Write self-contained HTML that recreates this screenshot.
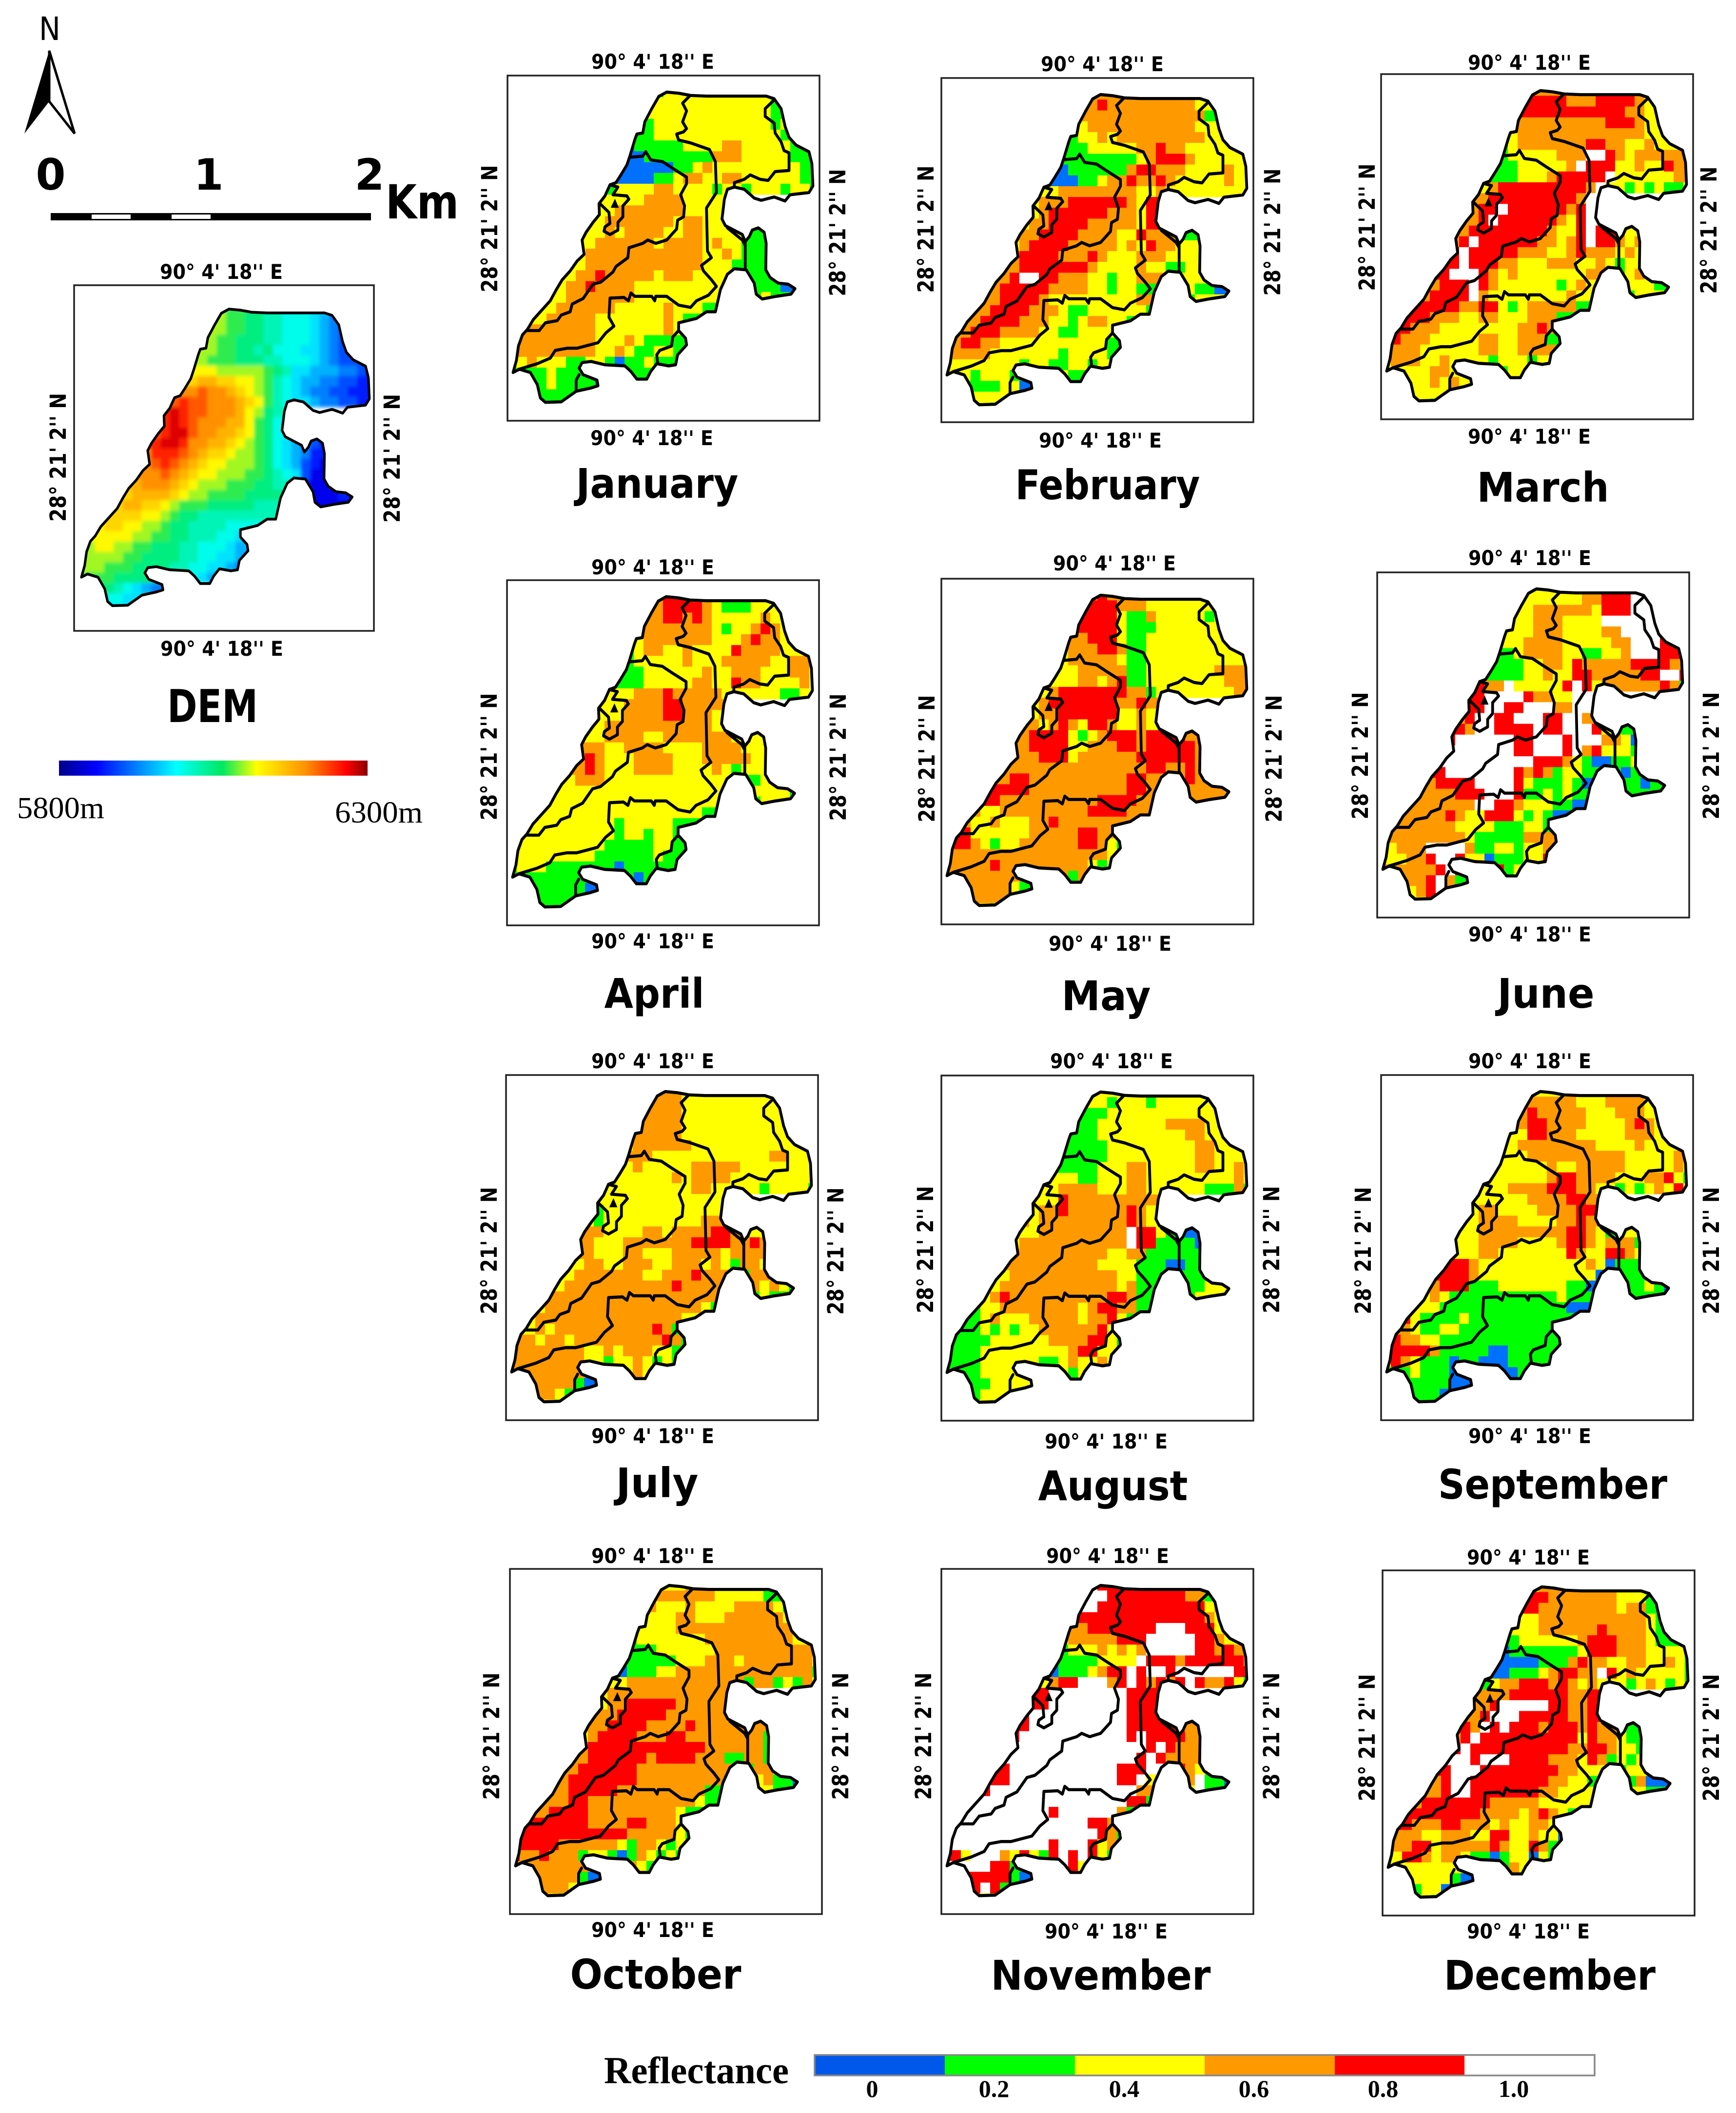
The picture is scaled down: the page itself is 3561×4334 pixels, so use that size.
<!DOCTYPE html>
<html lang="en">
<head>
<meta charset="utf-8">
<title>Monthly reflectance maps and DEM</title>
<style>
html,body{margin:0;padding:0;background:#fff}
svg{display:block}
text{fill:#000}
.lab{font-family:"DejaVu Sans","Liberation Sans",sans-serif;font-weight:700;font-size:42px;text-anchor:middle}
.side{font-family:"DejaVu Sans","Liberation Sans",sans-serif;font-weight:700;font-size:45px;text-anchor:middle}
.title{font-family:"DejaVu Sans","Liberation Sans",sans-serif;font-weight:700;font-size:84px;text-anchor:middle}
.frame{fill:none;stroke:#222;stroke-width:3.5}
.serif{font-family:"Liberation Serif",serif}
</style>
</head>
<body>
<svg xmlns="http://www.w3.org/2000/svg" width="3561" height="4334" viewBox="0 0 3561 4334">
<rect width="3561" height="4334" fill="#fff"/>
<defs>
<polygon id="basin-shape" points="28,1345 45,1290 55,1225 75,1175 100,1150 130,1105 175,1060 215,1020 245,970 275,925 315,885 350,840 385,810 375,745 395,710 430,665 462,630 460,580 490,545 515,495 545,485 570,450 600,405 615,365 640,290 650,265 680,260 690,210 725,150 760,95 800,75 860,80 920,90 1000,93 1300,93 1340,105 1375,150 1395,230 1415,280 1450,315 1515,345 1530,400 1535,500 1515,530 1420,540 1395,568 1340,550 1275,565 1240,555 1190,515 1140,505 1105,515 1090,560 1078,650 1095,680 1180,720 1195,752 1215,730 1230,700 1260,690 1290,710 1300,760 1298,880 1320,915 1360,940 1410,945 1445,965 1425,990 1350,1000 1280,1012 1250,990 1240,940 1200,880 1140,875 1105,900 1070,970 1045,1070 1000,1070 950,1100 860,1120 860,1155 895,1190 900,1220 855,1265 845,1310 810,1315 750,1305 720,1340 700,1375 650,1375 620,1340 590,1315 490,1310 420,1295 375,1300 360,1325 380,1355 450,1380 455,1405 420,1415 345,1430 270,1478 190,1480 165,1460 150,1400 115,1345 60,1330"/>
<clipPath id="basin-clip"><use href="#basin-shape"/></clipPath>
<filter id="dem-blur" x="-5%" y="-5%" width="110%" height="110%"><feGaussianBlur stdDeviation="9"/></filter>
<g id="basin-lines" fill="none" stroke="#000" stroke-width="14" stroke-linejoin="round" stroke-linecap="round">
<use href="#basin-shape"/>
<polyline points="915,93 880,125 900,160 880,210 900,240 885,255 850,265 860,292 920,305 1015,335 1045,390 1050,530 1000,600 1005,795 1025,825 975,860 985,885 1025,925 1050,955 1010,995 950,1020 920,1050 860,1040 800,1000 745,1000 740,1020 725,1000 640,1000 620,985 608,1020 585,1005 515,1008 510,1095 535,1135 495,1165 455,1210 350,1235 300,1235 240,1245 215,1280 150,1305 60,1330"/>
<polyline points="615,370 680,365 695,345 720,382 780,390 830,420 900,460 900,490 870,540 890,590 885,640 855,655 850,695 800,745 745,760 705,745 680,760 610,780 605,825 545,865 530,890 470,935 430,945 380,1010 325,1035 315,1070 270,1085 250,1110 190,1120 160,1155 100,1155"/>
<polyline points="515,495 555,505 530,540 600,545 610,560 580,590 580,640 555,665 555,700 515,720 485,705 490,685 515,670 510,620 470,585 460,580"/>
<polyline points="1335,115 1295,150 1295,185 1340,215 1345,260 1375,300 1390,340 1415,350 1415,430 1345,435 1310,475 1270,470 1220,450 1190,470 1140,485 1140,505"/>
<polyline points="1195,752 1195,875"/>
<polyline points="1105,690 1180,745 1195,770"/>
<polyline points="860,1155 830,1185 825,1225 765,1245 750,1265 755,1300"/>
<polyline points="360,1355 345,1380 345,1430"/>
<polygon points="540,560 520,598 558,598" fill="#000" stroke-width="2"/>
</g>
<linearGradient id="dem-ramp" x1="0" y1="0" x2="1" y2="0">
<stop offset="0" stop-color="#00008b"/><stop offset="0.12" stop-color="#0000ff"/><stop offset="0.38" stop-color="#00ffff"/><stop offset="0.53" stop-color="#00e860"/><stop offset="0.64" stop-color="#ffff00"/><stop offset="0.8" stop-color="#ff9000"/><stop offset="0.93" stop-color="#ff0000"/><stop offset="1" stop-color="#8b0000"/>
</linearGradient>
</defs>

<!-- North arrow and scale bar -->
<text x="80" y="82" font-family="'DejaVu Sans',sans-serif" font-size="66" textLength="44" lengthAdjust="spacingAndGlyphs">N</text>
<g>
<polygon points="101,104 50,274 101,208" fill="#000"/>
<polygon points="101,104 153,274 101,208" fill="#fff" stroke="#000" stroke-width="5" stroke-linejoin="miter"/>
</g>
<g font-family="'DejaVu Sans',sans-serif" font-weight="700" font-size="88" text-anchor="middle">
<text x="104" y="389">0</text>
<text x="428" y="389">1</text>
<text x="758" y="389">2</text>
</g>
<text x="791" y="448" font-family="'DejaVu Sans',sans-serif" font-weight="700" font-size="96" textLength="150" lengthAdjust="spacingAndGlyphs">Km</text>
<g>
<rect x="104" y="437" width="657" height="15" fill="#000"/>
<rect x="188" y="440" width="80" height="9" fill="#fff"/>
<rect x="352" y="440" width="80" height="9" fill="#fff"/>
</g>

<!-- DEM panel -->
<g>
<g transform="translate(156,601.5) scale(0.392,0.433)">
<g clip-path="url(#basin-clip)"><g id="dem-cells" filter="url(#dem-blur)"></g></g>
<use href="#basin-shape" fill="none" stroke="#000" stroke-width="13" stroke-linejoin="round"/>
</g>
<rect class="frame" x="152" y="585" width="615" height="709"/>
<text class="lab" x="454" y="572" textLength="252" lengthAdjust="spacingAndGlyphs">90° 4' 18'' E</text>
<text class="lab" x="455" y="1345" textLength="252" lengthAdjust="spacingAndGlyphs">90° 4' 18'' E</text>
<text class="side" transform="translate(135,938) rotate(-90)" textLength="264" lengthAdjust="spacingAndGlyphs">28° 21' 2'' N</text>
<text class="side" transform="translate(820,940) rotate(-90)" textLength="264" lengthAdjust="spacingAndGlyphs">28° 21' 2'' N</text>
<text class="title" x="436" y="1481" style="font-size:93px" textLength="186" lengthAdjust="spacingAndGlyphs">DEM</text>
<rect x="121" y="1560" width="633" height="31" fill="url(#dem-ramp)"/>
<text class="serif" x="35" y="1678" font-size="62" textLength="179" lengthAdjust="spacingAndGlyphs">5800m</text>
<text class="serif" x="687" y="1687" font-size="62" textLength="180" lengthAdjust="spacingAndGlyphs">6300m</text>
</g>

<!-- January -->
<g>
<g transform="translate(1041,155) scale(0.40816,0.45281)"><g class="cells" data-month="january" clip-path="url(#basin-clip)"></g><use href="#basin-lines"/></g>
<rect class="frame" x="1041" y="155" width="640" height="708"/>
<text class="lab" x="1339" y="141" textLength="252" lengthAdjust="spacingAndGlyphs">90° 4' 18'' E</text>
<text class="lab" x="1337" y="913" textLength="252" lengthAdjust="spacingAndGlyphs">90° 4' 18'' E</text>
<text class="side" transform="translate(1020,469) rotate(-90)" textLength="261" lengthAdjust="spacingAndGlyphs">28° 21' 2'' N</text>
<text class="side" transform="translate(1734,477) rotate(-90)" textLength="261" lengthAdjust="spacingAndGlyphs">28° 21' 2'' N</text>
<text class="title" x="1348" y="1021" textLength="333" lengthAdjust="spacingAndGlyphs">January</text>
</g>
<!-- February -->
<g>
<g transform="translate(1931,160) scale(0.40816,0.45281)"><g class="cells" data-month="february" clip-path="url(#basin-clip)"></g><use href="#basin-lines"/></g>
<rect class="frame" x="1931" y="160" width="640" height="706"/>
<text class="lab" x="2261" y="146" textLength="252" lengthAdjust="spacingAndGlyphs">90° 4' 18'' E</text>
<text class="lab" x="2257" y="918" textLength="252" lengthAdjust="spacingAndGlyphs">90° 4' 18'' E</text>
<text class="side" transform="translate(1915,470) rotate(-90)" textLength="261" lengthAdjust="spacingAndGlyphs">28° 21' 2'' N</text>
<text class="side" transform="translate(2626,476) rotate(-90)" textLength="261" lengthAdjust="spacingAndGlyphs">28° 21' 2'' N</text>
<text class="title" x="2272" y="1024" textLength="379" lengthAdjust="spacingAndGlyphs">February</text>
</g>
<!-- March -->
<g>
<g transform="translate(2833,152) scale(0.40816,0.45281)"><g class="cells" data-month="march" clip-path="url(#basin-clip)"></g><use href="#basin-lines"/></g>
<rect class="frame" x="2833" y="152" width="640" height="708"/>
<text class="lab" x="3137" y="143" textLength="252" lengthAdjust="spacingAndGlyphs">90° 4' 18'' E</text>
<text class="lab" x="3137" y="910" textLength="252" lengthAdjust="spacingAndGlyphs">90° 4' 18'' E</text>
<text class="side" transform="translate(2820,466) rotate(-90)" textLength="261" lengthAdjust="spacingAndGlyphs">28° 21' 2'' N</text>
<text class="side" transform="translate(3521,472) rotate(-90)" textLength="261" lengthAdjust="spacingAndGlyphs">28° 21' 2'' N</text>
<text class="title" x="3165" y="1029" textLength="271" lengthAdjust="spacingAndGlyphs">March</text>
</g>
<!-- April -->
<g>
<g transform="translate(1040,1190) scale(0.40816,0.45281)"><g class="cells" data-month="april" clip-path="url(#basin-clip)"></g><use href="#basin-lines"/></g>
<rect class="frame" x="1040" y="1190" width="640" height="708"/>
<text class="lab" x="1339" y="1178" textLength="252" lengthAdjust="spacingAndGlyphs">90° 4' 18'' E</text>
<text class="lab" x="1339" y="1945" textLength="252" lengthAdjust="spacingAndGlyphs">90° 4' 18'' E</text>
<text class="side" transform="translate(1019,1552) rotate(-90)" textLength="261" lengthAdjust="spacingAndGlyphs">28° 21' 2'' N</text>
<text class="side" transform="translate(1735,1553) rotate(-90)" textLength="261" lengthAdjust="spacingAndGlyphs">28° 21' 2'' N</text>
<text class="title" x="1342" y="2067" textLength="205" lengthAdjust="spacingAndGlyphs">April</text>
</g>
<!-- May -->
<g>
<g transform="translate(1931,1187) scale(0.40816,0.45281)"><g class="cells" data-month="may" clip-path="url(#basin-clip)"></g><use href="#basin-lines"/></g>
<rect class="frame" x="1931" y="1187" width="640" height="709"/>
<text class="lab" x="2286" y="1170" textLength="252" lengthAdjust="spacingAndGlyphs">90° 4' 18'' E</text>
<text class="lab" x="2277" y="1950" textLength="252" lengthAdjust="spacingAndGlyphs">90° 4' 18'' E</text>
<text class="side" transform="translate(1917,1556) rotate(-90)" textLength="261" lengthAdjust="spacingAndGlyphs">28° 21' 2'' N</text>
<text class="side" transform="translate(2629,1556) rotate(-90)" textLength="261" lengthAdjust="spacingAndGlyphs">28° 21' 2'' N</text>
<text class="title" x="2269" y="2072" textLength="183" lengthAdjust="spacingAndGlyphs">May</text>
</g>
<!-- June -->
<g>
<g transform="translate(2825,1174) scale(0.40816,0.45281)"><g class="cells" data-month="june" clip-path="url(#basin-clip)"></g><use href="#basin-lines"/></g>
<rect class="frame" x="2825" y="1174" width="640" height="708"/>
<text class="lab" x="3138" y="1159" textLength="252" lengthAdjust="spacingAndGlyphs">90° 4' 18'' E</text>
<text class="lab" x="3138" y="1931" textLength="252" lengthAdjust="spacingAndGlyphs">90° 4' 18'' E</text>
<text class="side" transform="translate(2806,1550) rotate(-90)" textLength="261" lengthAdjust="spacingAndGlyphs">28° 21' 2'' N</text>
<text class="side" transform="translate(3526,1550) rotate(-90)" textLength="261" lengthAdjust="spacingAndGlyphs">28° 21' 2'' N</text>
<text class="title" x="3171" y="2067" textLength="199" lengthAdjust="spacingAndGlyphs">June</text>
</g>
<!-- July -->
<g>
<g transform="translate(1038,2205) scale(0.40816,0.45281)"><g class="cells" data-month="july" clip-path="url(#basin-clip)"></g><use href="#basin-lines"/></g>
<rect class="frame" x="1038" y="2205" width="640" height="708"/>
<text class="lab" x="1339" y="2191" textLength="252" lengthAdjust="spacingAndGlyphs">90° 4' 18'' E</text>
<text class="lab" x="1339" y="2960" textLength="252" lengthAdjust="spacingAndGlyphs">90° 4' 18'' E</text>
<text class="side" transform="translate(1019,2565) rotate(-90)" textLength="261" lengthAdjust="spacingAndGlyphs">28° 21' 2'' N</text>
<text class="side" transform="translate(1730,2566) rotate(-90)" textLength="261" lengthAdjust="spacingAndGlyphs">28° 21' 2'' N</text>
<text class="title" x="1348" y="3071" textLength="169" lengthAdjust="spacingAndGlyphs">July</text>
</g>
<!-- August -->
<g>
<g transform="translate(1931,2206) scale(0.40816,0.45281)"><g class="cells" data-month="august" clip-path="url(#basin-clip)"></g><use href="#basin-lines"/></g>
<rect class="frame" x="1931" y="2206" width="640" height="708"/>
<text class="lab" x="2280" y="2191" textLength="252" lengthAdjust="spacingAndGlyphs">90° 4' 18'' E</text>
<text class="lab" x="2269" y="2971" textLength="252" lengthAdjust="spacingAndGlyphs">90° 4' 18'' E</text>
<text class="side" transform="translate(1914,2563) rotate(-90)" textLength="261" lengthAdjust="spacingAndGlyphs">28° 21' 2'' N</text>
<text class="side" transform="translate(2624,2563) rotate(-90)" textLength="261" lengthAdjust="spacingAndGlyphs">28° 21' 2'' N</text>
<text class="title" x="2283" y="3077" textLength="307" lengthAdjust="spacingAndGlyphs">August</text>
</g>
<!-- September -->
<g>
<g transform="translate(2833,2205) scale(0.40816,0.45281)"><g class="cells" data-month="september" clip-path="url(#basin-clip)"></g><use href="#basin-lines"/></g>
<rect class="frame" x="2833" y="2205" width="640" height="708"/>
<text class="lab" x="3138" y="2191" textLength="252" lengthAdjust="spacingAndGlyphs">90° 4' 18'' E</text>
<text class="lab" x="3138" y="2960" textLength="252" lengthAdjust="spacingAndGlyphs">90° 4' 18'' E</text>
<text class="side" transform="translate(2812,2565) rotate(-90)" textLength="261" lengthAdjust="spacingAndGlyphs">28° 21' 2'' N</text>
<text class="side" transform="translate(3526,2565) rotate(-90)" textLength="261" lengthAdjust="spacingAndGlyphs">28° 21' 2'' N</text>
<text class="title" x="3185" y="3074" textLength="470" lengthAdjust="spacingAndGlyphs">September</text>
</g>
<!-- October -->
<g>
<g transform="translate(1046,3218) scale(0.40816,0.45281)"><g class="cells" data-month="october" clip-path="url(#basin-clip)"></g><use href="#basin-lines"/></g>
<rect class="frame" x="1046" y="3218" width="640" height="708"/>
<text class="lab" x="1339" y="3206" textLength="252" lengthAdjust="spacingAndGlyphs">90° 4' 18'' E</text>
<text class="lab" x="1339" y="3973" textLength="252" lengthAdjust="spacingAndGlyphs">90° 4' 18'' E</text>
<text class="side" transform="translate(1024,3561) rotate(-90)" textLength="261" lengthAdjust="spacingAndGlyphs">28° 21' 2'' N</text>
<text class="side" transform="translate(1740,3561) rotate(-90)" textLength="261" lengthAdjust="spacingAndGlyphs">28° 21' 2'' N</text>
<text class="title" x="1345" y="4079" textLength="351" lengthAdjust="spacingAndGlyphs">October</text>
</g>
<!-- November -->
<g>
<g transform="translate(1931,3218) scale(0.40816,0.45281)"><g class="cells" data-month="november" clip-path="url(#basin-clip)"></g><use href="#basin-lines"/></g>
<rect class="frame" x="1931" y="3218" width="640" height="708"/>
<text class="lab" x="2272" y="3206" textLength="252" lengthAdjust="spacingAndGlyphs">90° 4' 18'' E</text>
<text class="lab" x="2269" y="3976" textLength="252" lengthAdjust="spacingAndGlyphs">90° 4' 18'' E</text>
<text class="side" transform="translate(1910,3561) rotate(-90)" textLength="261" lengthAdjust="spacingAndGlyphs">28° 21' 2'' N</text>
<text class="side" transform="translate(2624,3561) rotate(-90)" textLength="261" lengthAdjust="spacingAndGlyphs">28° 21' 2'' N</text>
<text class="title" x="2258" y="4081" textLength="451" lengthAdjust="spacingAndGlyphs">November</text>
</g>
<!-- December -->
<g>
<g transform="translate(2836,3221) scale(0.40816,0.45281)"><g class="cells" data-month="december" clip-path="url(#basin-clip)"></g><use href="#basin-lines"/></g>
<rect class="frame" x="2836" y="3221" width="640" height="708"/>
<text class="lab" x="3135" y="3209" textLength="252" lengthAdjust="spacingAndGlyphs">90° 4' 18'' E</text>
<text class="lab" x="3135" y="3976" textLength="252" lengthAdjust="spacingAndGlyphs">90° 4' 18'' E</text>
<text class="side" transform="translate(2820,3564) rotate(-90)" textLength="261" lengthAdjust="spacingAndGlyphs">28° 21' 2'' N</text>
<text class="side" transform="translate(3526,3564) rotate(-90)" textLength="261" lengthAdjust="spacingAndGlyphs">28° 21' 2'' N</text>
<text class="title" x="3179" y="4081" textLength="434" lengthAdjust="spacingAndGlyphs">December</text>
</g>

<!-- Reflectance legend -->
<g>
<text class="serif" x="1239" y="4273" font-size="78" font-weight="700" textLength="379" lengthAdjust="spacingAndGlyphs">Reflectance</text>
<rect x="1671" y="4215" width="267" height="42" fill="#0058ea"/>
<rect x="1938" y="4215" width="267" height="42" fill="#00ff00"/>
<rect x="2205" y="4215" width="266" height="42" fill="#ffff00"/>
<rect x="2471" y="4215" width="267" height="42" fill="#ff9900"/>
<rect x="2738" y="4215" width="266" height="42" fill="#ff0000"/>
<rect x="3004" y="4215" width="267" height="42" fill="#ffffff"/>
<rect x="1671" y="4215" width="1600" height="42" fill="none" stroke="#888" stroke-width="3.5"/>
<g class="serif" font-size="50" font-weight="700" text-anchor="middle">
<text x="1789" y="4301">0</text>
<text x="2039" y="4301">0.2</text>
<text x="2306" y="4301">0.4</text>
<text x="2572" y="4301">0.6</text>
<text x="2837" y="4301">0.8</text>
<text x="3105" y="4301">1.0</text>
</g>
</g>

<script>
// Reflectance classes read per grid cell: b=0, g=0.2, y=0.4, o=0.6, r=0.8, w=1.0; "." = off-basin (takes neighbour class, clipped away)
// Each string is one raster row (rows 1..30); its first char sits at column rowStart[row-1].
const rowStart = [15,15,14,14,13,12,12,12,11,10,9,9,8,8,7,7,7,6,5,4,3,2,2,1,1,0,2,3,3,4];
const classKeys = ["b","g","y","o","r","w"];
const classFills = ["#0070ff","#00ff00","#ffff00","#ff9900","#ff0000","#ffffff"];

const january = [
"gyyyyyyyyyyy","yyyyyyyyyyyyg","yyyyyyyyyyyyygg","gyyyyyyyyyyyygy","ggyyyyyyyyyyyyyg",
"bgggggyyyyooyyyyyg","bbgggggggoooyyyyyggg","bbbbbggyoyyyyyyyyygg","bbbbggyooyyooyyyyyygg","gyyyyooyyyygyygyyygyyg",
"yyyyyooooyyyy","yyoooooooyyyy","yyoooooooyooyy","yyoyooooyyooyyyyggg","yyooooooyooooyoyyggg",
"yooooooooooooyyoyggg","yooooooooooooyyygggg","yooroooooyoooyyy..gggg","yoorooooyyyyyyyyy...gggbb","yyoooooooyyyyyyyy....gyg",
"yyooooooyyyyyoyyygg","yyoooooyyyyyyyoygg","oooooooyyyyyyyoy","ooooooooyyyoyggggg","ooooooooyyoyggyyg",
"yyoyyyggyygbggyggg","ggygggg....ggy","gyggggb","gggg","gg"];

const february = [
"ooooooooo","oroooooooooyyg","ooooooooooooogg","yoooooooooooyyy","gyyoyoooooooooyy",
"gggyyyyyoorooyyyyy","ggggggggyorrroyyyyyyg","bggggggorroooyyyyoyy","bbbggyoorooroyyyyyoyy","yyooooooooyyoyyyyyyyyy",
"yooorrrrrroyr","yorrrrrroooyr","yoorrrroooooyr","oorrrrooooyyrooogg","yorrrroooooyoyrooyyy",
"orrrroooroyyyoooyyyy","orrrrrrroyyyyoyyggyy","orwwrroooyygyyo..gyyy","orrrrrooooyygyyg...gyggb","oorrrroyyyyyyyyyo....gyy",
"oorrrroooyggyyyyyyg","oorrrroooyygyooyyg","orrrooooyyggyyyy","orrooyyyyyyyyyyygg","ooooyyyyyyygyyyyg",
"yyyyyyyygyyggyygyy","ygyyyg....ygg","gggyyb","yyyy","yg"];

const march = [
"oooooooooooo","rrrrooorrrroy","rrrrrrrrrrrooyy","ooooooooorrroyy","yoooooooooooooyy",
"gyooooooorrooyyoyy","gyyyyyooowwroyooooog","ggyyyyyowrrryyoyyroo","gggyyyorrrrrwyyyyyyoo","yorrrrrrrrrowyygygyggy",
"oorrrrrrrrrow","orrwrrrrrrorw","oorwrrrrrroyrw","orrrrrrrroyyrwrroyy","orwrrrrrrooyorwrroyo",
"rwrrrrroooyyorooo"+"yoy","rwrrrooyyyoooyyoygyy","rwwwroyoyyyyyyyo..gyoy","orrrwroyyyyyygyoy...yyygg","orrrrwoyyyyyyyyoy....gyy",
"rrrrroorrygyooooogg","rrroooyyooyyyooogg","roooyyyyyyyyooro","roooyyyyyooyyooogg","oooyyyyyyooyyoooog",
"yoooyyoyyyygyyygyy","yyyooy....gyy","yyoyoy","yyyy","yg"];

const april = [
"orrryyyyyyyy","orrrroygggyyy","oorroroyyyyyoyy","oooooooygyyoroy","yoooooooyyyorooy",
"gyooyyoyyyyrooooyy","gyyyyyoyyyoooooyyooy","ggyyyyyyoyyoooyyyooy","gggyyyyyooyyrooyyyyoy","yyyooorooooo"+"yyyyyyggyy",
"yyyoooorroooo","yyyoooorroooy","yyoooooooooooy","yyooooyyoooooooyoyy","oooyyooooyyyyooooyyy",
"oroyyyooooyyyoooooyy","oroyyyooooyyyyoygyyy","yoooyyyyyyyyyyyy..ggyy","yyyyyyyyyyyyyyyyy...yyyyg","yyyyyyyyyyyyyyyyy....gyy",
"yyyyyyyyyyyyyyyyygg","yyyyyyyyygyyyyyggg","yyyyyyyyygyygyyg","yyyyyyyyygggggyygg","yyyyyyyygggggg"+"ygg",
"gyyygggggggbgggggg","gggggg....gbg","gggggb","gggg","gg"];

const may = [
"orooo"+"yyyyyyy","rrrooo"+"yyyyyyy","rrrryggoyyyyygy","rrrrygggyyyyyyy","oorrrygg"+"yyyyyyyy",
"yooorroggyyyyyyyyy","yoooooyggyyyyyyyyyyy","yyoooooggyyyyyyyoooo","yyyooyorggyyyyyyyyooo","yorrrrrrroogyyyyyyyyooy",
"yorrrrrrrooro","yoorrrrrryyoy","ooyoroyrroyyoy","orrrrygyorrrorrrroo","oorrrryyooorrorrrrro",
"ooorrryoooooorrrrrro","oooooooooooooo"+"rroo"+"ro","orr"+"oooooooooo"+"rro"+".."+"oroo","rrrroooooooooorro...ooooo","rroooooooooorrrro....ooo",
"oyyooooooooorrrrooo","oyyoyyyoor"+"oooooooo","ryyyyyyooooorroo","rroygyyoooooorroyg","ooooooooooooooooy",
"ooooo"+"r"+"ooooooooo"+"ygy","oooooo....ogo","ooooyg","oooo","yg"];

const june = [
"yyyyyyyyyyyy","yyyyyyoorrrww","yyooooooyrrrwww","yyoooyyyywwwwww","yyyoooyyyyoowwww",
"yyyooooyyyyyoowwwr","ggyooooyyggyyowwwrro","gggyyooyrooooorrrroo","ggggyyoyyrrooooorrwwr","roowyyyyyrwryoooooorog",
"rrwwwwrooyyww","rrwwrrwwwooww","orwwrrwwwrrwwo","rowwrrrrwrrwwwry.gg","rwwwwwwrrwwwrwwwooyb",
"wwwwwwwrrwwwrworyyyg","wwwwwwwwwrrroygbbggy","rwwwwwwwrorogyyg..gbgg","orrrrwwwwr"+"ygggygb"+"..."+"ggbgg","oooorrrwwwrg"+"gygyg"+"....ggg",
"ooooooowwrroyyyggbb","oooooroyyrrrygygbb","ooooooyyyygggyyg","ooooooooygggggoooo","yooowwwwoggyygyyo",
"yyyoorwwryybgggyyr","oooorwr....gyy","oorwog","yorw","yr"];

const july = [
"oooyyyyyyyyy","oooyyyyyyyyyy","ooooyyyyyyyyyyy","ooooyyyyyyyyyyy","oooooyyyyyyyyyyy",
"yooooooyyyyyyyyyyy","oooyyyyyyyyyyyyooyyy","yoyyyyyooooo"+"yyyyyyyy","yyyyyyoyooooyyyyyyyyy","yyyyyyyyyooyyyyygyyyyg",
"yyyyyyyyyyyyy","gyyyyyyyyyyyy","ygyyyyyyyyyyoo","ooyyyyooyoooorrooyy","ooyyyooooooo"+"rrrr"+"oo"+"r"+"o",
"ooyyyooyyyoooooyoooo","yooyyoooyyoooyoygooy","yooooooo"+"yyooo"+"r"+"oo"+".."+"g"+"oo"+"y","yooooooooooorooooo...yoygy","ooooooooooooooooo....gyg",
"yooooooooooooooooyg","yoooooooooooooooyy","yoyoooooooooorog","ooyooy"+"ooooooooo"+"rog","oooooooyyoyoooyyg",
"ooooooooyygyyoygyg","oooooo....yoy","oooogb","ooyg","yg"];

const august = [
"yyyyyyyyyyyy","yygyyygyyyyyy","gggyyyyyyyyyyyy","ggyyyyyyyooooyy","gggyyyyyyyyyooyy",
"gggggyyyyyyyyyooyy","gggggyyyyyyyyyooyyyy","ggggyyyooyyyyyooyyoy","yyyggyyyooyyyyyyyyyoy","yyooooyyyooyyyyyygggog",
"yyyrooooooooo","yoorooooooroy","oyoooooooooroy","yy"+"ooooooooo"+"w"+"rr"+"y"+"gg"+"bb","y"+"ooooooooooo"+"wrr"+"gggg"+"b",
"ooooooooooyyoogggggg","oooooooooyyyygggbbgg","y"+"ooooooooooo"+"yy"+"gg"+".."+"gggg","y"+"oooooooooooo"+"yog"+"...."+"ggyyy","yoroooooooooorrog....gyy",
"gyyooooooooyorroogg","ggyoyyyooooo"+"yoo"+"ryg","ggygygyyoooooory","ggggyyyyyyoooorryg","gggyyyyyyyyyorryy",
"ggggyyyyyyggyoyyoy","ggyyyy....ygy","ggyyyy","gyyy","yg"];

const september = [
"yyyyyyyyyyyy","oooooyyyooooy","oroooooyyyoooyy","orrooooyyyyoroy","yyrroooyyyyyoooy",
"yyooooooooyyyyoyyy","yyyooooooooooyyyyyoy","yyyyyoyyoooooyyyyyoy","yyyyyyorrooooyyyooryg","yyyoooorrrooyygygyoyry",
"yyyyyyoooorro","yooyyyyoooorr","yyooooyyyyooro","yyooooooooorroygyyy","yyyooooyyyyorroyooog",
"yyyooyyyyyyyroyyrroy","rroyyyyyyyyyyyoybggg","rrroyyyyyyyyyyyyb.gggg","orrrgggyyyyyyygg"+"b...ggygb","yoygggggggggggyggg....ggg",
"yyy"+"ggggggggggggg"+"bbb","ryggggyggggggggggg","oyggyygggggggggg","rooyyggggggggggggg","rrrrogggggbbggggg",
"yroygggbggbbbggggg","gygggb....bbg","ggggbb","gggb","gg"];

const october = [
"yyyooooooooo","ooooooyyyyygg","oyyyoyyyyooooyg","yyyooyyyooooooy","yyyyoooooooooooo",
"gyyyyyyyoooooooooy","gggyyyyyyoooooooooog","gggggyyyoooyoooooooy","bgggyyoooooooooooooog","yyoooooooooooogoogygoy",
"yoooooooooooo","yoorrrrrooooo","ooorrrrroooooo","oorrrroooor"+"oooooooo","yorrrrooorr"+"oooooooo"+"g",
"orrrrrrrrrrrroooooog","orrrrrrorrrroooggoog","orrrrrrooooooooo..gooy","orrrrrrr"+"ooooooooo"+"..."+"yoggb","oorrrrrooooooooog....yyg",
"ooorr"+"ooooooooooo"+"ygg","oorrrroooooooooygg","rrrrrroooorroooy","rrrrrrrrrrroooooyg","rrrr"+"oooooo"+"yg"+"oo"+"ygy",
"roorooogyygbgoygyg","oooooo....oyg","oooogb","oooy","yg"];

const november = [
"wrrrrrrrrrrr","wwrrrrrrrroog","wwrrrrrrrrrrryo","rrrrrrrrrrrrroy","oorrrrrrrwwwrrry",
"yooooorrrwwwwwrroy","gyyyoyoyowwwwwrroroy","ggggyyyywrrrorrrrrro","bgggyorrwrwwrwwwwwwrr","yorrwwworwrororwrooryg",
"rrwwwwwwwwrrr","rrwwwwwwwwrrr","rwwwwwwwwwwrrr","rwwwwwwwwwwrrrrrooo","rwwwwwwwwwwwrwrrrroo",
"wwwwwwwwwwwwwwrwrooo","wwwwwwwwwwwwwrwroooo","rwwwwwwwwwwwrrrw..royy","rrwwwwwwwwwwwrrwy...owggb","rwwwwwwwwwwwwwwwo....ywg",
"wwwwwwwwwwwwwwwwrrg","wwwwwwwwwrwwwwwwog","wwwwwwwwwwwwwrro","wwwwwwwwwwwwwwwrog","wwwwwwwwwwrwwwryo",
"rrywwwoyrygrwrwryg","wwwrrg....wry","rrrrgb","rwrg","yg"];

const december = [
"yooooooooooo","rroooooooyyyg","rroooooooo"+"y"+"oo"+"gg","yyoooooooooooyg","yyyoooooo"+"r"+"oooo"+"yg",
"ggyyyyyyorrroooygg","bgggggggy"+"rrr"+"ooo"+"yyyy"+"b","bbbbgggorooyyooyyoyg","bbgggyorroowryoyyyyyg","gyoorrroroyoyyygyoygyg",
"oooorrrrrroor","oorwwwwwrroor","oorwwwrrrrroor","rowrwrrrorrrorooygg","orwrrrrrrrrrr"+"yrooygg",
"rwrrrrrrrrrroorroyyg","wwrwwwrrrr"+"ooo"+"yrogygy","rwwwrrrrrrrrooyy..gyyy","orwwrrrrrrrrooyyg...gobbb","oorwwrrrrrrroo"+"yyy....yyg",
"orrrrrrrooooo"+"yyyyyy","rrrrrrrroooo"+"yoroyg","rooorroooyoyyooy","oooyyoooyyrryyoyyb","oorry"+"ooooo"+"r"+"o"+"yy"+"r"+"o"+"g",
"yyrroyooyggbgyybyg","yyyyyy....goy","yyyygb","gyyb","yg"];

// DEM elevation, one character per cell, in 25 m steps above 5800 m (0=5800 ... k=6300)
const elevationLevels = "0123456789abcdefghijk";
const elevationRows = [
"cbbaa99888777","cbbaa99888765","ccbbaa998887654","cbbaaa998887654","ccbbaa9a88877654",
"ccbbbaaa9988876544","dddcccccba9776665543","effeeddcb98766554433","gghggfedcb98765544333","hihhgggfedb98776554433",
"ijihhgggfdca9","ijihgggffdba8","hijjhggffedba8","ijjiggffedcba876543","giiihgfeedccba876533",
"ghihgfeddcccba876432","gghgfeddcccbba987422","fgggfedcccbbbaa9993222","effffedccbbbbaaaa99922233","effeedcbbbaaaaa999999222",
"eeeeddcbaa999999999","deeddccbaa99998888","ddddccbbaa999887","cddccbbaaa99888766","ccccbbaaaa9988776",
"cccbbbaaaa99887765","bbaaaa998887"+"65","a98765","8877","77"];

const monthGrids = {january,february,march,april,may,june,july,august,september,october,november,december};
const CELL = 49;
const SVGNS = "http://www.w3.org/2000/svg";

function demFill(level){
  const metres = 5800 + level * 25;
  const t = (metres - 5800) / 500;
  const stops = [[0,0,0,139],[.12,0,0,255],[.38,0,255,255],[.53,0,232,96],[.64,255,255,0],[.8,255,144,0],[.93,255,0,0],[1,139,0,0]];
  for (let i = 1; i < stops.length; i++){
    if (t <= stops[i][0]){
      const a = stops[i-1], b = stops[i], f = (t-a[0])/(b[0]-a[0]);
      return "rgb("+[1,2,3].map(k=>Math.round(a[k]+(b[k]-a[k])*f)).join(",")+")";
    }
  }
  return "#8b0000";
}

function addCell(group, col, row, fill){
  const cell = document.createElementNS(SVGNS, "rect");
  cell.setAttribute("x", col * CELL);
  cell.setAttribute("y", row * CELL);
  cell.setAttribute("width", CELL + 1);
  cell.setAttribute("height", CELL + 1);
  cell.setAttribute("fill", fill);
  
  
  group.appendChild(cell);
}

function drawRaster(group, rows, fillFor){
  rows.forEach(function(text, idx){
    const row = idx + 1;
    const start = rowStart[idx];
    let last = null;
    const filled = [];
    text.split("").forEach(function(ch){ if (ch !== ".") last = ch; filled.push(last); });
    // spare cells either side so the clip edge never shows a gap
    addCell(group, start - 2, row, fillFor(filled[0]));
    addCell(group, start - 1, row, fillFor(filled[0]));
    filled.forEach(function(ch, i){ addCell(group, start + i, row, fillFor(ch)); });
    for (let e = 0; e < 3; e++){ addCell(group, start + filled.length + e, row, fillFor(filled[filled.length-1])); }
  });
}

function classFill(ch){
  const i = classKeys.indexOf(ch);
  return i < 0 ? "#ffffff" : classFills[i];
}

document.querySelectorAll("g.cells").forEach(function(group){
  drawRaster(group, monthGrids[group.getAttribute("data-month")], classFill);
});
drawRaster(document.getElementById("dem-cells"), elevationRows, function(ch){
  return demFill(Math.max(0, elevationLevels.indexOf(ch)));
});
</script>
</svg>
</body>
</html>
